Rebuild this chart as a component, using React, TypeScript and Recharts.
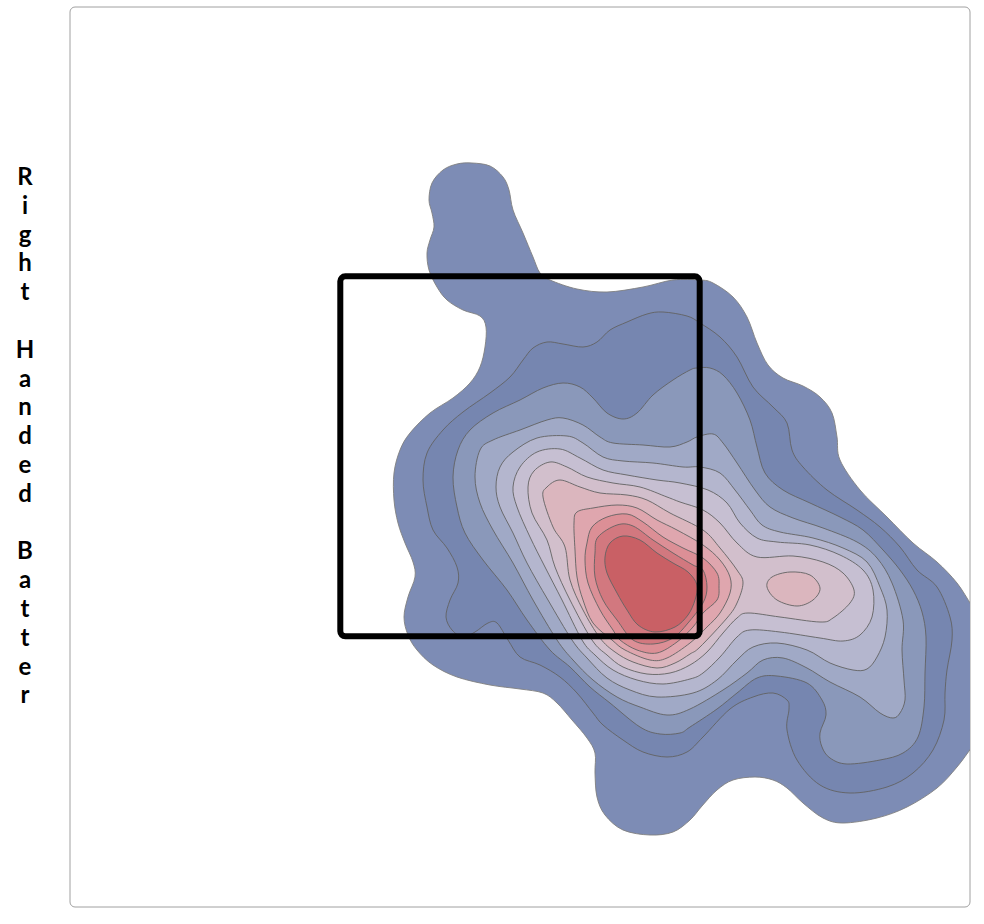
import React from "react";
import { ComposedChart, Area, XAxis, YAxis, ReferenceArea } from "recharts";

type Pt = [number, number];

const yLabel = "Right Handed Batter";

const panelX: Pt = [70, 970];
const panelY: Pt = [7, 907];
const zoneX: Pt = [340.3, 699.7];
const zoneY: Pt = [276.3, 636.3];

const levelColors = [
  "#7d8cb5", "#7686b0", "#8a98ba", "#a0a9c6", "#b4b6ce", "#c6bfd2",
  "#d2bfcc", "#dbb6be", "#dfa6ae", "#dc8f96", "#d2787f", "#c96065", "#dbb6be",
];

const level0: Pt[] = [
  [472,163],[490,166],[503,177],[509,190],[513,210],[523,233],[533,257],[540,273],[550,280],[577,289],
  [607,292],[643,287],[673,280],[700,280],[713,283],[733,297],[747,317],[757,343],[768,365],[783,378],
  [803,386],[820,397],[832,413],[837,437],[840,460],[860,490],[887,517],[913,543],[937,562],[957,583],
  [972,606],[985,625],[985,730],[972,747],[957,767],[937,788],[907,807],[877,818],[843,823],[823,818],
  [803,803],[787,788],[773,780],[755,777],[733,780],[717,790],[702,806],[690,820],[673,832],[650,835],
  [623,830],[605,815],[597,797],[595,773],[595,753],[587,738],[572,720],[557,703],[543,693],[520,689],
  [490,685],[457,677],[433,665],[417,650],[408,635],[404,617],[408,597],[415,577],[413,562],[405,543],
  [398,523],[394,500],[394,473],[400,450],[410,433],[430,413],[453,398],[470,383],[480,367],[485,347],
  [486,327],[480,316],[463,310],[447,300],[437,287],[429,270],[427,253],[430,240],[434,227],[432,213],
  [429,200],[432,183],[443,170],[457,164],
];

const level1: Pt[] = [
  [663,312],[687,316],[700,323],[720,337],[737,357],[753,387],[773,407],[787,423],[792,450],[803,467],
  [827,490],[857,510],[880,527],[900,547],[917,570],[937,587],[950,617],[952,640],[947,670],[945,693],
  [944,720],[933,750],[913,773],[887,787],[850,793],[820,785],[797,760],[787,730],[789,709],[787,700],
  [773,693],[753,697],[730,709],[703,737],[687,752],[667,757],[643,752],[623,740],[603,725],[593,713],
  [577,693],[560,677],[540,665],[520,657],[508,640],[497,623],[488,623],[475,632],[463,637],[452,630],
  [446,617],[450,600],[458,583],[457,567],[447,548],[433,530],[427,507],[423,480],[427,453],[443,430],
  [463,412],[490,393],[510,377],[523,360],[533,348],[547,342],[563,344],[583,347],[597,342],[610,330],
  [627,322],[647,314],
];

const level2: Pt[] = [
  [690,370],[697,368],[710,368],[723,375],[737,393],[750,420],[757,447],[765,473],[783,490],[810,503],
  [840,517],[863,530],[883,550],[900,570],[913,590],[922,612],[926,637],[925,673],[924,707],[918,737],
  [903,753],[880,760],[847,764],[830,758],[822,747],[820,733],[826,715],[822,700],[807,683],[777,676],
  [757,678],[737,693],[717,709],[690,727],[680,733],[660,734],[640,727],[610,703],[590,687],[570,667],
  [550,650],[527,620],[507,590],[483,560],[465,533],[457,507],[453,477],[458,450],[470,430],[493,413],
  [520,400],[543,388],[563,383],[580,387],[593,398],[607,413],[623,419],[637,413],[653,395],[673,380],
];

const level3: Pt[] = [
  [563,418],[583,425],[600,437],[613,443],[643,445],[670,447],[687,442],[697,437],[713,434],[723,443],
  [737,463],[755,490],[770,507],[793,518],[823,528],[857,542],[877,558],[892,583],[903,620],[902,650],
  [904,680],[905,700],[900,713],[893,718],[880,713],[860,697],[830,682],[807,668],[783,658],[763,660],
  [747,673],[723,690],[690,709],[667,715],[640,707],[617,697],[593,680],[573,660],[557,640],[533,600],
  [513,563],[493,530],[480,503],[475,477],[480,450],[493,440],[520,430],[547,420],
];

const level4: Pt[] = [
  [567,436],[583,443],[603,457],[623,461],[653,463],[683,467],[700,467],[720,473],[735,490],[750,510],
  [762,525],[780,532],[813,538],[843,548],[867,562],[880,587],[887,610],[885,637],[877,657],[867,669],
  [853,670],[830,663],[807,650],[777,643],[753,647],[737,660],[717,680],[693,693],[657,697],[630,690],
  [607,678],[587,658],[572,640],[548,600],[527,563],[513,533],[500,507],[496,487],[500,467],[513,452],
  [537,438],
];

const level5: Pt[] = [
  [560,449],[580,458],[603,470],[627,475],[657,480],[680,483],[708,490],[727,503],[740,523],[757,538],
  [777,542],[810,545],[840,555],[863,570],[873,590],[872,617],[860,635],[843,641],[820,638],[780,632],
  [750,630],[737,637],[720,657],[703,673],[690,679],[663,684],[637,680],[613,670],[595,655],[582,640],
  [562,600],[545,567],[530,537],[517,507],[513,487],[520,467],[537,452],
];

const level6: Pt[] = [
  [550,462],[567,467],[587,477],[613,483],[640,487],[667,497],[680,502],[703,510],[720,523],[737,543],
  [757,557],[793,556],[823,562],[843,573],[854,590],[850,603],[833,618],[820,622],[780,617],[748,613],
  [737,618],[723,633],[707,652],[690,665],[670,673],[647,674],[623,667],[607,655],[592,640],[570,600],
  [555,567],[547,540],[532,513],[528,487],[534,471],
];

const level7: Pt[] = [
  [560,480],[580,487],[600,493],[627,495],[647,500],[670,513],[703,530],[720,548],[737,570],[743,583],
  [737,603],[727,618],[700,647],[690,654],[675,663],[657,668],[633,662],[615,652],[600,638],[583,610],
  [570,580],[565,547],[553,527],[543,497],[547,487],
];

const level8: Pt[] = [
  [577,512],[593,508],[617,505],[637,508],[657,520],[677,530],[703,545],[720,560],[730,577],[730,593],
  [720,613],[707,627],[690,643],[667,658],[650,660],[625,650],[612,640],[593,623],[583,600],[577,577],
  [575,550],[574,523],
];

const level9: Pt[] = [
  [587,543],[592,527],[607,517],[627,514],[643,522],[663,537],[683,548],[703,558],[717,573],[719,587],
  [717,600],[703,613],[693,627],[677,642],[657,653],[637,650],[620,640],[613,630],[600,610],[588,583],
  [585,560],
];

const level10: Pt[] = [
  [595,553],[598,537],[617,525],[633,526],[653,540],[673,553],[693,565],[703,570],[707,587],[703,603],
  [688,623],[673,638],[653,644],[633,640],[617,620],[603,600],[595,577],
];

const level11: Pt[] = [
  [605,557],[610,543],[623,536],[640,540],[657,553],[673,563],[688,572],[697,585],[695,600],[688,615],
  [675,627],[655,632],[638,625],[627,610],[617,593],[607,573],
];

// second peak on the right, same level as level7
const island: Pt[] = [
  [790,572],[810,575],[820,588],[813,600],[797,606],[777,600],[767,587],[772,577],
];

const contours = [level0, level1, level2, level3, level4, level5, level6, level7, level8, level9, level10, level11, island];

const toRows = (pts: Pt[]) => [...pts, pts[0]].map(([x, y]) => ({ x, y }));

// closed catmull-rom, so a ring of points comes out as a smooth outline
const smoothRing = (ctx: any) => {
  let pts: Pt[] = [];
  let inArea = false;
  let back = false;
  return {
    areaStart() { inArea = true; back = false; },
    areaEnd() { inArea = false; },
    lineStart() { pts = []; },
    point(x: number, y: number) { pts.push([+x, +y]); },
    lineEnd() {
      if (!pts.length) return;
      if (inArea && back) ctx.lineTo(pts[0][0], pts[0][1]);
      else ctx.moveTo(pts[0][0], pts[0][1]);
      const n = pts.length - 1;
      for (let i = 0; i < n; i++) {
        const p0 = i === 0 ? pts[n - 1] : pts[i - 1];
        const p1 = pts[i];
        const p2 = pts[i + 1];
        const p3 = i === n - 1 ? pts[1] : pts[i + 2];
        ctx.bezierCurveTo(
          p1[0] + (p2[0] - p0[0]) / 6, p1[1] + (p2[1] - p0[1]) / 6,
          p2[0] - (p3[0] - p1[0]) / 6, p2[1] - (p3[1] - p1[1]) / 6,
          p2[0], p2[1]
        );
      }
      if (inArea && back) ctx.closePath();
      if (inArea) back = true;
    },
  };
};

const App: React.FC = () => {
  return (
    <div style={{ position: "absolute", left: 0, top: 0, width: 984, height: 924, overflow: "hidden" }}>
      <div
        style={{
          position: "absolute",
          left: 0,
          top: 162,
          width: 50,
          textAlign: "center",
          fontFamily: "Lato",
          fontWeight: 700,
          fontSize: 24,
          color: "#000",
        }}
      >
        {yLabel.split("").map((c, i) => (
          <div key={i} style={{ height: 28.8, lineHeight: "28.8px" }}>{c === " " ? "\u00a0" : c}</div>
        ))}
      </div>
      <ComposedChart width={984} height={924} margin={{ top: 7, right: 14, bottom: 17, left: 70 }}>
        <XAxis type="number" dataKey="x" domain={panelX} hide allowDataOverflow />
        <YAxis type="number" domain={panelY} reversed hide allowDataOverflow />
        <ReferenceArea
          x1={panelX[0]} x2={panelX[1]} y1={panelY[0]} y2={panelY[1]}
          fill="#fff" fillOpacity={1} stroke="#a0a0a0" strokeWidth={1} radius={5}
        />
        {contours.map((pts, i) => (
          <Area
            key={i}
            data={toRows(pts)}
            dataKey="y"
            type={smoothRing as any}
            fill={levelColors[i]}
            fillOpacity={1}
            stroke={i === 0 ? "#808080" : "#626262"}
            strokeWidth={0.9}
            dot={false}
            activeDot={false}
            isAnimationActive={false}
          />
        ))}
        <ReferenceArea
          x1={zoneX[0]} x2={zoneX[1]} y1={zoneY[0]} y2={zoneY[1]}
          fill="none" stroke="#000" strokeWidth={6} radius={5}
        />
      </ComposedChart>
    </div>
  );
};

export default App;
